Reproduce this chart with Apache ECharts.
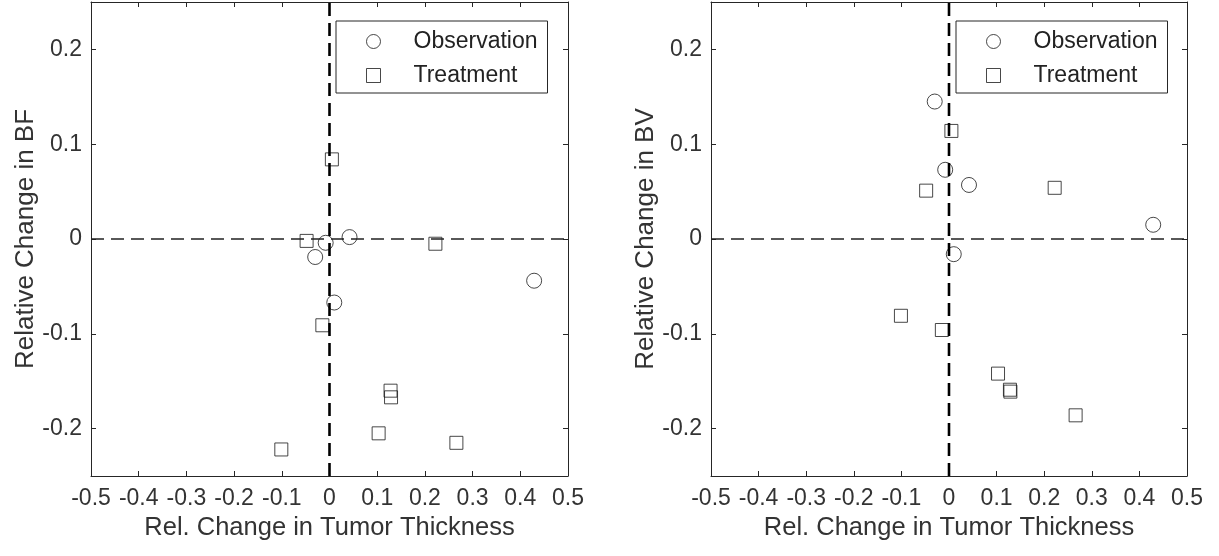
<!DOCTYPE html>
<html>
<head>
<meta charset="utf-8">
<title>Tumor thickness vs BF / BV</title>
<script src="https://cdn.jsdelivr.net/npm/echarts@6/dist/echarts.min.js"></script>
<style>
    html, body { margin: 0; padding: 0; background: #fff; }
    #chart { width: 1219px; height: 556px; }
</style>
</head>
<body>
<div id="chart"></div>
<script>
    // x = relative change in tumor thickness (same patients in both panels)
    const obs_x   = [-0.030, -0.008, 0.010, 0.042, 0.429];
    const obs_bf  = [-0.019, -0.004, -0.067, 0.002, -0.044];
    const obs_bv  = [0.145, 0.073, -0.016, 0.057, 0.015];

    const treat_x  = [-0.101, -0.048, -0.015, 0.005, 0.103, 0.128, 0.129, 0.222, 0.266];
    const treat_bf = [-0.222, -0.002, -0.091, 0.084, -0.205, -0.160, -0.167, -0.005, -0.215];
    const treat_bv = [-0.081, 0.051, -0.096, 0.114, -0.142, -0.159, -0.161, 0.054, -0.186];

    const x_ticks = [-0.5, -0.4, -0.3, -0.2, -0.1, 0, 0.1, 0.2, 0.3, 0.4, 0.5];
    const y_ticks = [-0.2, -0.1, 0, 0.1, 0.2];
    const x_range = [-0.5, 0.5];
    const y_range = [-0.25, 0.25];

    const x_title = 'Rel. Change in Tumor Thickness';
    const y_titles = ['Relative Change in BF', 'Relative Change in BV'];
    const legend_names = ['Observation', 'Treatment'];

    const FONT = "'Liberation Sans', Arial, Helvetica, sans-serif";
    const AX = '#262626';
    const TXT = '#333333';
    const MARK = '#1a1a1a';

    // plot boxes in pixels
    const panels = [
        {left: 91, width: 477},
        {left: 711, width: 476}
    ];

    function zip(xs, ys) {
        return xs.map((x, i) => [x, ys[i]]);
    }

    function chart_option() {
        const grid = [], xAxis = [], yAxis = [], series = [], legend = [];

        panels.forEach((p, i) => {
            grid.push({left: p.left, top: 2, width: p.width, height: 474});

            const tick = {inside: true, length: 5, lineStyle: {color: AX, width: 1}};
            const line = {onZero: false, lineStyle: {color: AX, width: 1}};

            xAxis.push({
                gridIndex: i, type: 'value', position: 'bottom',
                min: x_range[0], max: x_range[1],
                axisLine: line,
                axisTick: Object.assign({customValues: x_ticks}, tick),
                axisLabel: {
                    customValues: x_ticks, margin: 11, fontSize: 23,
                    color: TXT, fontFamily: FONT,
                    formatter: v => String(v)
                },
                splitLine: {show: false},
                name: x_title, nameLocation: 'middle', nameGap: 39,
                nameTextStyle: {fontSize: 25.5, color: TXT, fontFamily: FONT}
            });
            xAxis.push({
                gridIndex: i, type: 'value', position: 'top',
                min: x_range[0], max: x_range[1],
                axisLine: line,
                axisTick: Object.assign({customValues: x_ticks}, tick),
                axisLabel: {show: false},
                splitLine: {show: false}
            });
            yAxis.push({
                gridIndex: i, type: 'value', position: 'left',
                min: y_range[0], max: y_range[1],
                axisLine: line,
                axisTick: Object.assign({customValues: y_ticks}, tick),
                axisLabel: {
                    customValues: y_ticks, margin: 9, fontSize: 23,
                    color: TXT, fontFamily: FONT,
                    formatter: v => String(v)
                },
                splitLine: {show: false},
                name: y_titles[i], nameLocation: 'middle', nameGap: 51, nameRotate: 90,
                nameTextStyle: {fontSize: 26, color: TXT, fontFamily: FONT}
            });
            yAxis.push({
                gridIndex: i, type: 'value', position: 'right',
                min: y_range[0], max: y_range[1],
                axisLine: line,
                axisTick: Object.assign({customValues: y_ticks}, tick),
                axisLabel: {show: false},
                splitLine: {show: false}
            });

            const xi = 2 * i, yi = 2 * i;

            // reference lines at zero
            series.push({
                name: 'zero-h-' + i, type: 'line', xAxisIndex: xi, yAxisIndex: yi,
                data: [[x_range[0], 0], [x_range[1], 0]],
                symbol: 'none', silent: true,
                lineStyle: {color: '#222', width: 1.3, type: [13, 7]}
            });
            series.push({
                name: 'zero-v-' + i, type: 'line', xAxisIndex: xi, yAxisIndex: yi,
                data: [[0, y_range[0]], [0, y_range[1]]],
                symbol: 'none', silent: true,
                lineStyle: {color: '#000', width: 2.6, type: [13, 7]}
            });

            series.push({
                name: legend_names[0], type: 'scatter', xAxisIndex: xi, yAxisIndex: yi,
                data: zip(obs_x, i === 0 ? obs_bf : obs_bv),
                symbol: 'circle', symbolSize: 15,
                itemStyle: {color: 'transparent', borderColor: MARK, borderWidth: 1}
            });
            series.push({
                name: legend_names[1], type: 'scatter', xAxisIndex: xi, yAxisIndex: yi,
                data: zip(treat_x, i === 0 ? treat_bf : treat_bv),
                symbol: 'rect', symbolSize: 13,
                itemStyle: {color: 'transparent', borderColor: MARK, borderWidth: 1}
            });

            legend.push({
                orient: 'vertical',
                left: p.left + 245, top: 21,
                padding: [9, 10, 6, 30],
                itemGap: 11, itemWidth: 14, itemHeight: 14,
                borderColor: AX, borderWidth: 1,
                selectedMode: false,
                textStyle: {
                    fontSize: 23, color: '#222', fontFamily: FONT,
                    padding: [0, 0, 0, 28]
                },
                data: [
                    {name: legend_names[0], icon: 'circle',
                     itemStyle: {color: 'transparent', borderColor: MARK, borderWidth: 1}},
                    {name: legend_names[1], icon: 'rect',
                     itemStyle: {color: 'transparent', borderColor: MARK, borderWidth: 1}}
                ]
            });
        });

        return {
            backgroundColor: '#fff',
            animation: false,
            grid: grid,
            xAxis: xAxis,
            yAxis: yAxis,
            legend: legend,
            series: series
        };
    }

    const chart = echarts.init(document.getElementById('chart'));
    chart.setOption(chart_option());
</script>
</body>
</html>
